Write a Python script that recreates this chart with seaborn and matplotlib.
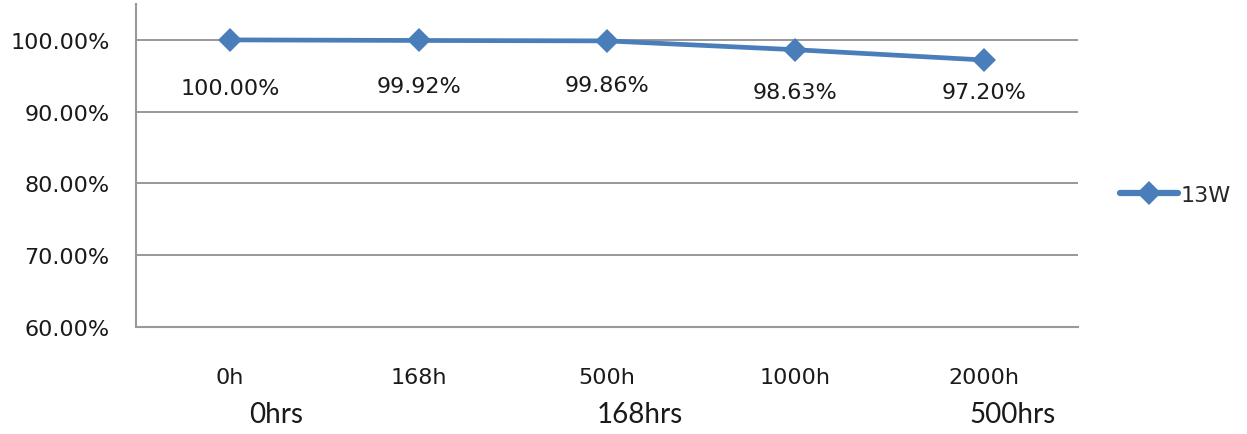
import matplotlib
matplotlib.use("Agg")
import matplotlib.pyplot as plt
import seaborn as sns
import pandas as pd

# Luminous maintenance of the 13W lamp over test time
categories = ["0h", "168h", "500h", "1000h", "2000h"]
values_13w = [100.00, 99.92, 99.86, 98.63, 97.20]
series_name = "13W"
y_ticks = [60, 70, 80, 90, 100]
second_row_labels = ["0hrs", "168hrs", "500hrs"]

sns.set_theme(style="white")
plt.rcParams["font.family"] = ["DejaVu Sans"]

line_color = "#4a7ebb"
grid_color = "#868686"

df = pd.DataFrame({"time": categories, "value": values_13w, "series": series_name})

fig = plt.figure(figsize=(12.47, 4.35), dpi=100)
ax = fig.add_axes([0.109, 0.246, 0.7555, 0.7425])

sns.lineplot(data=df, x="time", y="value", hue="series", palette=[line_color],
             marker="D", markersize=12, markeredgewidth=0, linewidth=3.4,
             sort=False, ax=ax)

ax.set_xlim(-0.5, len(categories) - 0.5)
ax.set_ylim(60, 105)
ax.set_yticks(y_ticks)
ax.set_yticklabels([f"{v:.2f}%" for v in y_ticks], fontsize=16, color="#1a1a1a")
ax.set_xticks(range(len(categories)))
ax.set_xticklabels(categories, fontsize=16, color="#1a1a1a")
ax.tick_params(axis="y", length=0, pad=19)
ax.tick_params(axis="x", length=0, pad=29)
ax.set_xlabel("")
ax.set_ylabel("")

for yv in y_ticks[1:]:
    ax.axhline(yv, color=grid_color, linewidth=1.2, zorder=0)

for side in ["top", "right"]:
    ax.spines[side].set_visible(False)
for side in ["left", "bottom"]:
    ax.spines[side].set_color("#999999")
    ax.spines[side].set_linewidth(1.5)

# value labels beneath each point
label_drop_px = [48, 46, 44, 42, 32]
for i, (v, d) in enumerate(zip(values_13w, label_drop_px)):
    ax.annotate(f"{v:.2f}%", xy=(i, v), xytext=(0, -d * 0.72),
                textcoords="offset points", ha="center", va="center",
                fontsize=16, color="#1a1a1a")

# second row of time labels
second_row_x = [0.243, 2.175, 4.15]
for x, t in zip(second_row_x, second_row_labels):
    ax.text(x, -0.27, t, transform=ax.get_xaxis_transform(), ha="center",
            va="center", fontsize=20, family="Lato", color="#1a1a1a")

leg = ax.legend(loc="center left", bbox_to_anchor=(1.035, 0.41), frameon=False,
                fontsize=16, handlelength=2.6, handletextpad=0.15,
                borderaxespad=0)
for h in leg.legend_handles:
    h.set_linewidth(4.5)

fig.savefig("out.png", dpi=100)
